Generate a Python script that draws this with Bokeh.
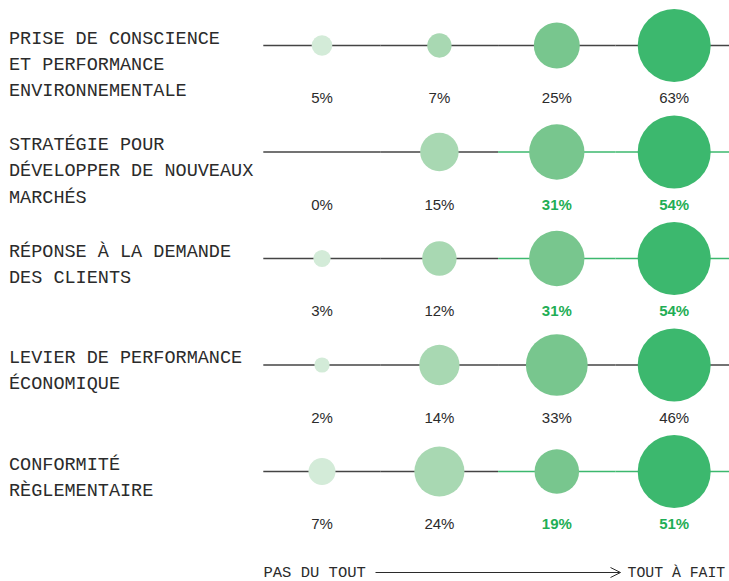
import numpy as np
from bokeh.plotting import figure
from bokeh.models import Range1d, ColumnDataSource, Arrow, OpenHead
from bokeh.core.properties import value
from bokeh.embed import file_html
from bokeh.resources import INLINE

# ---------------- data ----------------
themes = [
    "PRISE DE CONSCIENCE\nET PERFORMANCE\nENVIRONNEMENTALE",
    "STRATÉGIE POUR\nDÉVELOPPER DE NOUVEAUX\nMARCHÉS",
    "RÉPONSE À LA DEMANDE\nDES CLIENTS",
    "LEVIER DE PERFORMANCE\nÉCONOMIQUE",
    "CONFORMITÉ\nRÈGLEMENTAIRE",
]
levels = ["Pas du tout", "Plutôt pas", "Plutôt", "Tout à fait"]
pct_prise_conscience = [5, 7, 25, 63]
pct_strategie = [0, 15, 31, 54]
pct_demande_clients = [3, 12, 31, 54]
pct_levier_eco = [2, 14, 33, 46]
pct_conformite = [7, 24, 19, 51]
highlight_prise_conscience = [0, 0, 0, 0]
highlight_strategie = [0, 0, 1, 1]
highlight_demande_clients = [0, 0, 1, 1]
highlight_levier_eco = [0, 0, 0, 0]
highlight_conformite = [0, 0, 1, 1]
scale_left = "PAS DU TOUT"
scale_right = "TOUT À FAIT"

values = [pct_prise_conscience, pct_strategie, pct_demande_clients, pct_levier_eco, pct_conformite]
highlights = [highlight_prise_conscience, highlight_strategie, highlight_demande_clients,
              highlight_levier_eco, highlight_conformite]

# ---------------- styling / layout ----------------
W, H = 729, 581
ROW0, ROW_STEP = 45.0, 106.5
COL0, COL_STEP = 321.5, 117.4
MAX_D = 73.0
bubble_colors = ["#d3ebd8", "#a8d8b2", "#78c68e", "#3cb86e"]
line_dark, line_green = "#444444", "#3cb86e"
txt_dark, txt_green = "#2b2b2b", "#1fae55"
MONO = "Liberation Mono"
SANS = "Liberation Sans"

p = figure(width=W, height=H, x_range=Range1d(0, W), y_range=Range1d(H, 0),
           output_backend="svg", toolbar_location=None, min_border=0)
p.axis.visible = False
p.grid.visible = False
p.outline_line_color = None
p.background_fill_color = "white"
p.border_fill_color = "white"

seg = dict(x0=[], x1=[], y=[], c=[])
bub = dict(x=[], y=[], s=[], c=[])
lab = dict(x=[], y=[], t=[], c=[], bold=[])
for i, (vals, hl) in enumerate(zip(values, highlights)):
    y = ROW0 + i * ROW_STEP
    vmax = max(vals)
    for j, v in enumerate(vals):
        x = COL0 + j * COL_STEP
        seg["x0"].append(x - COL_STEP / 2)
        seg["x1"].append(x + COL_STEP / 2)
        seg["y"].append(y)
        seg["c"].append(line_green if hl[j] else line_dark)
        if v > 0:
            bub["x"].append(x)
            bub["y"].append(y)
            bub["s"].append(MAX_D * np.sqrt(v / vmax))
            bub["c"].append(bubble_colors[j])
        lab["x"].append(x)
        lab["y"].append(y + 52)
        lab["t"].append(f"{v}%")
        lab["c"].append(txt_green if hl[j] else txt_dark)
        lab["bold"].append("bold" if hl[j] else "normal")

p.segment(x0="x0", y0="y", x1="x1", y1="y", line_color="c", line_width=1.3,
          source=ColumnDataSource(dict(x0=seg["x0"], x1=seg["x1"], y=seg["y"], c=seg["c"])))
p.scatter(x="x", y="y", size="s", fill_color="c", line_color=None, marker="circle",
          source=ColumnDataSource(bub))

# percentage labels: normal and bold (highlighted) groups
for style in ("normal", "bold"):
    idx = [k for k, b in enumerate(lab["bold"]) if b == style]
    src = ColumnDataSource(dict(x=[lab["x"][k] for k in idx], y=[lab["y"][k] for k in idx],
                                t=[lab["t"][k] for k in idx], c=[lab["c"][k] for k in idx]))
    p.text(x="x", y="y", text="t", text_color="c", source=src, text_font=value(SANS),
           text_font_size="15px", text_font_style=style, text_align="center",
           text_baseline="middle")

# theme labels (one glyph per visual line)
tx, ty, tt = [], [], []
for i, t in enumerate(themes):
    y = ROW0 + i * ROW_STEP
    for k, line in enumerate(t.split("\n")):
        tx.append(8.5)
        ty.append(y - 6.5 + 26.4 * k)
        tt.append(line)
p.text(x=tx, y=ty, text=tt, text_color=txt_dark, text_font=value(MONO),
       text_font_size="18.5px", text_align="left", text_baseline="middle")

# bottom scale
by = 572
p.text(x=[263], y=[by], text=[scale_left], text_color=txt_dark, text_font=value(MONO),
       text_font_size="15.5px", text_align="left", text_baseline="middle")
p.text(x=[627], y=[by], text=[scale_right], text_color=txt_dark, text_font=value(MONO),
       text_font_size="14.8px", text_align="left", text_baseline="middle")
p.add_layout(Arrow(x_start=375, y_start=by, x_end=620, y_end=by, line_color=txt_dark,
                   line_width=1, end=OpenHead(size=10, line_width=1, line_color=txt_dark)))

open("out.html", "w").write(file_html(p, INLINE))
